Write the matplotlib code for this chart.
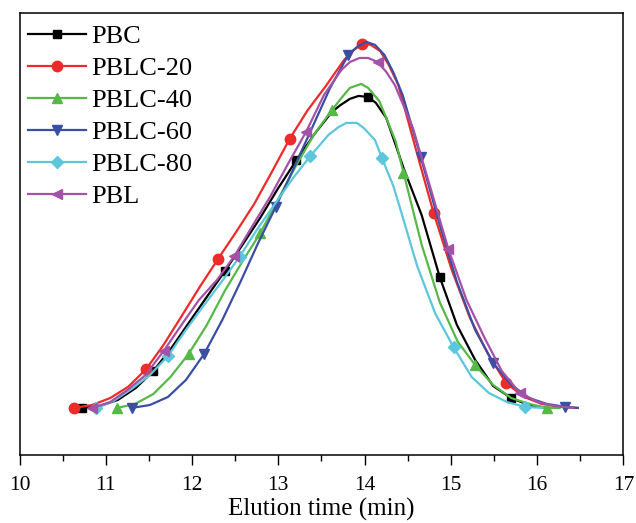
import matplotlib
matplotlib.use("Agg")
import matplotlib.pyplot as plt
from matplotlib.ticker import MultipleLocator

plt.rcParams['font.family'] = ['Liberation Serif', 'DejaVu Serif']

# elution time (min) / relative detector response
pbc_x = [10.72, 10.93, 11.14, 11.35, 11.55, 11.76, 11.97, 12.17, 12.38, 12.59, 12.79, 13.00, 13.21, 13.42,
         13.62, 13.72, 13.83, 13.93, 14.04, 14.13, 14.25, 14.34, 14.45, 14.66, 14.87, 15.07, 15.28, 15.49,
         15.70, 15.90, 16.11]
pbc_y = [0, 0.5, 2.2, 5.5, 10.1, 16.4, 23.6, 30.4, 37.5, 44.9, 52.1, 60.3, 67.9, 75.1,
         81.1, 83.0, 84.7, 85.5, 85.2, 83.6, 79.5, 73.4, 65.8, 52.9, 35.9, 22.7, 13.2, 6.0,
         2.7, 0.8, 0]
pbc_marks = [10.72, 11.55, 12.38, 13.21, 14.04, 14.87, 15.70]

pblc20_x = [10.63, 10.84, 11.05, 11.26, 11.47, 11.67, 11.88, 12.09, 12.30, 12.51, 12.72, 12.93, 13.13, 13.34, 13.55,
            13.76, 13.87, 13.97, 14.07, 14.18, 14.28, 14.39, 14.59, 14.80, 15.01, 15.22, 15.43, 15.64, 15.85,
            16.05, 16.26, 16.47]
pblc20_y = [0, 0.8, 2.7, 5.8, 10.7, 17.3, 25.2, 33.2, 40.8, 48.2, 55.9, 64.9, 73.7, 81.6, 88.2,
            95.3, 98.0, 99.7, 99.5, 97.8, 94.0, 88.5, 71.2, 53.4, 37.8, 24.7, 14.8, 6.8, 3.0,
            1.1, 0.3, 0]
pblc20_marks = [10.63, 11.47, 12.30, 13.13, 13.97, 14.80, 15.64]

pblc40_x = [11.13, 11.34, 11.55, 11.75, 11.96, 12.17, 12.38, 12.58, 12.79, 13.00, 13.21, 13.41, 13.62,
            13.75, 13.83, 13.96, 14.04, 14.17, 14.25, 14.36, 14.45, 14.66, 14.87, 15.08, 15.28, 15.49,
            15.70, 15.91, 16.11, 16.26]
pblc40_y = [0, 1.1, 3.8, 8.5, 14.8, 22.7, 32.1, 40.0, 47.9, 57.3, 66.6, 74.8, 81.6,
            85.5, 87.7, 88.8, 87.7, 84.1, 79.5, 73.0, 64.5, 44.8, 29.0, 18.1, 11.8, 6.3,
            2.7, 1.1, 0, 0]
pblc40_marks = [11.13, 11.96, 12.79, 13.62, 14.45, 15.28, 16.11]

pblc60_x = [11.30, 11.51, 11.72, 11.93, 12.14, 12.35, 12.56, 12.76, 12.97, 13.18, 13.39, 13.60, 13.81,
            13.91, 14.02, 14.12, 14.23, 14.33, 14.44, 14.65, 14.86, 15.07, 15.28, 15.49, 15.70, 15.91,
            16.11, 16.32, 16.47]
pblc60_y = [0, 0.8, 3.0, 7.7, 14.8, 24.1, 34.5, 44.9, 55.1, 65.8, 76.7, 87.7, 96.7,
            98.9, 100.3, 99.5, 96.7, 92.1, 85.8, 68.8, 51.0, 34.5, 21.4, 12.3, 6.3, 2.7,
            1.1, 0.3, 0]
pblc60_marks = [11.30, 12.14, 12.97, 13.81, 14.65, 15.49, 16.32]

pblc80_x = [10.89, 11.09, 11.30, 11.51, 11.72, 11.92, 12.13, 12.34, 12.55, 12.75, 12.96, 13.17, 13.37,
            13.58, 13.70, 13.79, 13.91, 13.99, 14.12, 14.20, 14.33, 14.41, 14.61, 14.82, 15.03, 15.24,
            15.44, 15.65, 15.86, 16.06]
pblc80_y = [0, 1.9, 5.2, 9.0, 14.2, 21.1, 27.9, 34.5, 41.4, 48.8, 55.9, 63.0, 69.0,
            74.8, 77.0, 78.1, 78.1, 76.7, 73.4, 68.5, 61.0, 54.8, 38.8, 25.8, 16.7, 8.5,
            4.1, 1.6, 0.3, 0]
pblc80_marks = [10.89, 11.72, 12.55, 13.37, 14.20, 15.03, 15.86]

pbl_x = [10.84, 11.05, 11.25, 11.46, 11.67, 11.87, 12.08, 12.29, 12.49, 12.70, 12.91, 13.11, 13.32, 13.53,
         13.73, 13.83, 13.94, 14.04, 14.15, 14.25, 14.35, 14.56, 14.77, 14.97, 15.18, 15.39, 15.59, 15.80,
         16.01, 16.21, 16.42]
pbl_y = [0, 1.6, 4.9, 9.0, 15.6, 22.5, 29.6, 35.1, 41.6, 49.9, 58.1, 66.8, 75.6, 85.8,
         92.6, 94.8, 95.9, 95.9, 94.8, 92.1, 88.5, 76.7, 59.7, 43.6, 29.6, 19.2, 10.1, 4.1,
         1.6, 0.5, 0]
pbl_marks = [10.84, 11.67, 12.49, 13.32, 14.15, 14.97, 15.80]

series = [
    ("PBC", pbc_x, pbc_y, pbc_marks, "#000000", "s"),
    ("PBLC-20", pblc20_x, pblc20_y, pblc20_marks, "#ee2a2a", "o"),
    ("PBLC-40", pblc40_x, pblc40_y, pblc40_marks, "#55b847", "^"),
    ("PBLC-60", pblc60_x, pblc60_y, pblc60_marks, "#3a4fa3", "v"),
    ("PBLC-80", pblc80_x, pblc80_y, pblc80_marks, "#5cc6dc", "D"),
    ("PBL", pbl_x, pbl_y, pbl_marks, "#a452a8", "<"),
]

fig = plt.figure(figsize=(6.36, 5.23), dpi=100)
ax = fig.add_axes([0.0307, 0.130, 0.9496, 0.845])

for name, xs, ys, marks, col, mk in series:
    ms = 6 if mk in ("s", "D") else 7.5
    idx = [xs.index(m) for m in marks]
    ax.plot(xs, ys, color=col, lw=1.6, marker=mk, markersize=ms,
            markevery=idx, label=name)

ax.set_xlim(10, 17)
ax.set_ylim(-12.9, 108.2)
ax.xaxis.set_major_locator(MultipleLocator(1))
ax.xaxis.set_minor_locator(MultipleLocator(0.5))
ax.set_yticks([])
ax.tick_params(axis='x', which='major', direction='out', length=7, width=1, labelsize=15.5, pad=8)
ax.tick_params(axis='x', which='minor', direction='out', length=4, width=1)
for sp in ax.spines.values():
    sp.set_linewidth(1.1)

ax.set_xlabel("Elution time (min)", fontsize=18, labelpad=2)

ax.legend(loc='upper left', frameon=False, fontsize=19, handlelength=2.2,
          handletextpad=0.2, labelspacing=0.32, borderaxespad=0.25, borderpad=0.2,
          bbox_to_anchor=(-0.005, 1.0))

fig.savefig("out.png", dpi=100)
